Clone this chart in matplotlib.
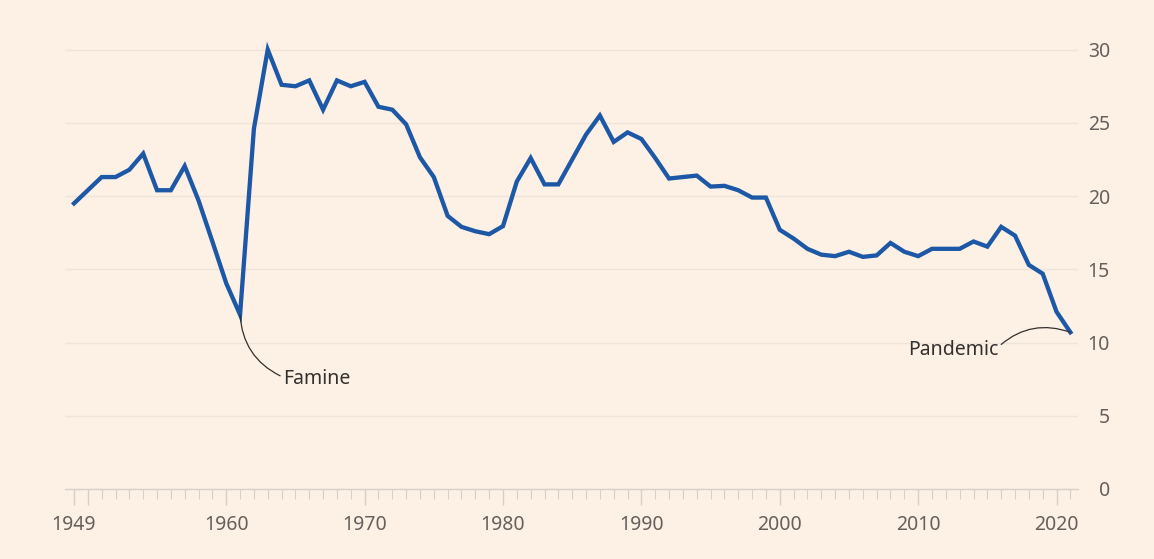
import matplotlib
matplotlib.use("Agg")
import matplotlib.pyplot as plt
from matplotlib.ticker import FixedLocator

# ---- data: births in China (millions) ----
years = list(range(1949, 2022))
births = [19.5, 20.4, 21.3, 21.3, 21.8, 22.9, 20.4, 20.4, 22.05, 19.7,
          16.9, 14.05, 11.9, 24.6, 30.0, 27.6, 27.5, 27.9, 25.9, 27.9,
          27.5, 27.8, 26.1, 25.9, 24.9, 22.65, 21.3, 18.65, 17.9, 17.6,
          17.4, 17.95, 21.0, 22.6, 20.8, 20.8, 22.5, 24.2, 25.5, 23.7,
          24.35, 23.9, 22.6, 21.2, 21.3, 21.4, 20.65, 20.7, 20.4, 19.9,
          19.9, 17.7, 17.1, 16.4, 16.0, 15.9, 16.2, 15.85, 15.95, 16.8,
          16.2, 15.9, 16.4, 16.4, 16.4, 16.9, 16.55, 17.9, 17.3, 15.3,
          14.7, 12.1, 10.7]
x_major_years = [1949, 1950, 1960, 1970, 1980, 1990, 2000, 2010, 2020]
x_major_labels = ["1949", "", "1960", "1970", "1980", "1990", "2000", "2010", "2020"]
y_ticks = [0, 5, 10, 15, 20, 25, 30]
y_tick_labels = ["0", "5", "10", "15", "20", "25", "30"]

BG = "#fdf1e6"
LINE = "#1d58a6"
GRID = "#efe4d9"
TICKC = "#d6cec7"
LABEL = "#66605c"
TEXT = "#33302e"
FONT = ["Noto Sans", "DejaVu Sans"]

plt.rcParams["font.family"] = FONT

fig = plt.figure(figsize=(11.54, 5.59), dpi=100, facecolor=BG)
ax = fig.add_axes([65 / 1154, 70 / 559, (1078 - 65) / 1154, (489 - 35) / 559])
ax.set_facecolor(BG)

ax.set_xlim(1948.35, 2021.55)
ax.set_ylim(0, 31)

for v in y_ticks[1:]:
    ax.axhline(v, color=GRID, lw=1.0, zorder=0)

ax.plot(years, births, color=LINE, lw=3.1, solid_joinstyle="miter", zorder=3)

for s in ["top", "right", "left"]:
    ax.spines[s].set_visible(False)
ax.spines["bottom"].set_color(TICKC)
ax.spines["bottom"].set_linewidth(1.0)

ax.xaxis.set_major_locator(FixedLocator(x_major_years))
ax.set_xticklabels(x_major_labels)
ax.xaxis.set_minor_locator(FixedLocator(years))
ax.tick_params(axis="x", which="major", length=11.5, width=1.0, color=TICKC,
               labelsize=14, labelcolor=LABEL, pad=7)
ax.tick_params(axis="x", which="minor", length=7.2, width=0.8, color=TICKC)

ax.yaxis.tick_right()
ax.set_yticks(y_ticks)
ax.set_yticklabels(y_tick_labels)
ax.tick_params(axis="y", length=0, labelsize=14, labelcolor=LABEL, pad=23)
for lab in ax.get_yticklabels():
    lab.set_horizontalalignment("right")

# annotations
fam_y = births[years.index(1961)]
ax.annotate("Famine", xy=(1961, fam_y), xytext=(1964.1, 7.5),
            fontsize=14, color=TEXT, ha="left", va="center",
            arrowprops=dict(arrowstyle="-", color=TEXT, lw=0.9,
                            shrinkA=0, shrinkB=0, relpos=(0.0, 0.6),
                            connectionstyle="arc3,rad=-0.3"), zorder=4)
pan_y = births[years.index(2021)]
ax.annotate("Pandemic", xy=(2021, pan_y), xytext=(2015.8, 9.5),
            fontsize=14, color=TEXT, ha="right", va="center",
            arrowprops=dict(arrowstyle="-", color=TEXT, lw=0.9,
                            shrinkA=0, shrinkB=0, relpos=(1.0, 0.65),
                            connectionstyle="arc3,rad=-0.3"), zorder=4)

fig.savefig("out.png", dpi=100, facecolor=BG)
